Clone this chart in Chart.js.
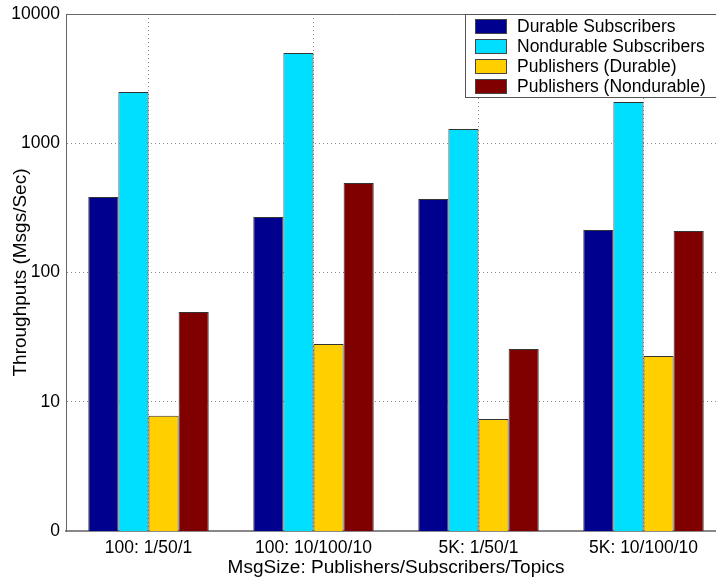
<!DOCTYPE html>
<html>
<head>
<meta charset="utf-8">
<script src="https://cdn.jsdelivr.net/npm/chart.js@4.4.0/dist/chart.umd.min.js"></script>
<style>
  html, body { margin: 0; padding: 0; background: #fff; overflow: hidden; }
  #wrap { width: 726px; height: 579px; }
</style>
</head>
<body>
<div id="wrap"><canvas id="chart"></canvas></div>
<script>
// categories and series
const categories = ['100: 1/50/1', '100: 10/100/10', '5K: 1/50/1', '5K: 10/100/10'];
const durableSubs = [384, 269, 370, 213];
const nondurableSubs = [2490, 4990, 1290, 2085];
const pubsDurable = [7.8, 28, 7.35, 22.6];
const pubsNondurable = [49.5, 492, 25.6, 209];
const yTicks = [1, 10, 100, 1000, 10000];

const seriesNames = ['Durable Subscribers', 'Nondurable Subscribers', 'Publishers (Durable)', 'Publishers (Nondurable)'];
const seriesColors = ['#00008f', '#00dfff', '#ffcf00', '#800000'];
const seriesData = [durableSubs, nondurableSubs, pubsDurable, pubsNondurable];

const FONT = 'Liberation Sans, Arial, sans-serif';

// box legend in the top right, like the matlab one
const boxLegend = {
  id: 'boxLegend',
  afterDraw(chart) {
    const ctx = chart.ctx;
    const a = chart.chartArea;
    ctx.save();
    // axes box (top + left)
    ctx.strokeStyle = '#666';
    ctx.lineWidth = 1;
    ctx.beginPath();
    ctx.moveTo(a.right, a.top + 0.5);
    ctx.lineTo(a.left + 0.5, a.top + 0.5);
    ctx.lineTo(a.left + 0.5, a.bottom);
    ctx.stroke();

    const x0 = 465, y0 = 14, w = 260, h = 83;
    ctx.fillStyle = '#fff';
    ctx.fillRect(x0, y0, w, h);
    ctx.strokeStyle = '#555';
    ctx.strokeRect(x0 + 0.5, y0 + 0.5, w, h);
    ctx.font = '17.5px ' + FONT;
    ctx.textBaseline = 'middle';
    chart.data.datasets.forEach((ds, i) => {
      const cy = y0 + 12 + i * 20;
      ctx.fillStyle = ds.backgroundColor;
      ctx.fillRect(475, cy - 7, 31, 14);
      ctx.strokeStyle = '#444';
      ctx.strokeRect(475.5, cy - 6.5, 31, 14);
      ctx.fillStyle = '#000';
      ctx.fillText(ds.label, 517, cy + 1);
    });
    ctx.restore();
  }
};

new Chart(document.getElementById('chart'), {
  type: 'bar',
  data: {
    labels: categories,
    datasets: seriesNames.map((name, i) => ({
      label: name,
      data: seriesData[i],
      backgroundColor: seriesColors[i],
      borderColor: '#333',
      borderWidth: 1,
      borderSkipped: 'bottom',
      categoryPercentage: 0.73,
      barPercentage: 1.0
    }))
  },
  options: {
    responsive: true,
    maintainAspectRatio: false,
    animation: false,
    layout: { padding: { top: 14, right: 0, left: 0, bottom: 0 } },
    plugins: {
      legend: { display: false },
      tooltip: { enabled: false }
    },
    scales: {
      x: {
        offset: true,
        grid: {
          offset: false,
          color: '#888',
          drawTicks: false
        },
        border: { display: true, color: '#888', width: 2, dash: [1, 3] },
        ticks: { color: '#000', font: { family: FONT, size: 17.5 }, padding: 7, maxRotation: 0 },
        title: {
          display: true,
          text: 'MsgSize: Publishers/Subscribers/Topics',
          color: '#000',
          font: { family: FONT, size: 19 },
          padding: { top: 0, bottom: 0 }
        },
        afterFit(scale) {
          scale.height = 48;
          scale.paddingLeft = 0;
          scale.paddingRight = 0;
        }
      },
      y: {
        type: 'logarithmic',
        min: 1,
        max: 10000,
        afterBuildTicks(scale) { scale.ticks = yTicks.map(v => ({ value: v })); },
        grid: {
          color: '#888',
          drawTicks: false
        },
        border: { display: true, color: '#666', dash: [1, 3] },
        ticks: {
          color: '#000',
          font: { family: FONT, size: 17.5 },
          padding: 6,
          callback: v => (v === 1 ? '0' : String(v))
        },
        title: {
          display: true,
          text: 'Throughputs (Msgs/Sec)',
          color: '#000',
          font: { family: FONT, size: 19 },
          padding: { top: 9, bottom: 0 }
        },
        afterFit(scale) {
          scale.width = 66;
          scale.paddingTop = 0;
          scale.paddingBottom = 0;
        }
      }
    }
  },
  plugins: [boxLegend]
});
</script>
</body>
</html>
